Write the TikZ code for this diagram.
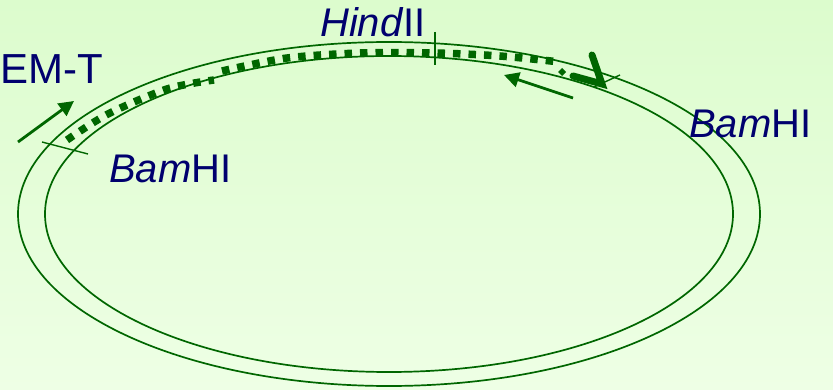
\documentclass[tikz,border=0pt]{standalone}
\usepackage{fontspec}
\setmainfont{Liberation Sans}
\usetikzlibrary{arrows.meta}
\definecolor{dna}{RGB}{0,102,0}
\definecolor{lbl}{RGB}{0,0,110}
\definecolor{bgtop}{RGB}{220,252,205}
\definecolor{bgbot}{RGB}{238,255,229}
\tikzset{
  ring/.style={draw=dna, line width=1.7pt},
  site/.style={draw=dna, line width=1.4pt},
  insert/.style={draw=dna, line width=7.5pt, dash pattern=on 7.5pt off 8pt},
  dirarrow/.style={draw=dna, line width=2.8pt, -{Triangle[length=15pt,width=15pt]}},
  label/.style={text=lbl, inner sep=0pt, anchor=base west, font=\fontsize{40}{48}\selectfont},
}
\begin{document}
\begin{tikzpicture}[x=1pt,y=-1pt]
\shade[top color=bgtop, bottom color=bgbot] (0,0) rectangle (833,390);
\useasboundingbox (0,0) rectangle (833,390);
% plasmid rings
\coordinate (c) at (389,214);
\draw[ring] (c) ellipse [x radius=371pt, y radius=172pt];
\draw[ring] (c) ellipse [x radius=344pt, y radius=158pt];
% insert (dotted)
\draw[insert] plot[smooth] coordinates {(67,140) (108,114) (167,89) (214,80)};
\draw[insert] plot[smooth] coordinates {(222,71) (287,58) (360,53) (435,53) (500,56) (560,62)};
\fill[dna] (562,68) -- (566,72) -- (562,76) -- (558,72) -- cycle;
\draw[dna, line width=7pt, line cap=round, line join=miter] (592,55) -- (602,84) -- (573,76);
% restriction sites
\coordinate (b1a) at (42,142); \coordinate (b1b) at (88,154);
\coordinate (h1a) at (435,32); \coordinate (h1b) at (435,65);
\coordinate (b2a) at (594,87); \coordinate (b2b) at (620,75);
\draw[site] (b1a) -- (b1b);
\draw[site] (h1a) -- (h1b);
\draw[site] (b2a) -- (b2b);
% direction arrows
\coordinate (a1s) at (18,142); \coordinate (a1e) at (74,101);
\coordinate (a2s) at (573,98); \coordinate (a2e) at (504,75);
\draw[dirarrow] (a1s) -- (a1e);
\draw[dirarrow] (a2s) -- (a2e);
% labels
\node[label, font=\fontsize{42}{50}\selectfont] (emt) at (0,84) {EM-T};
\node[label] (bam1) at (109,183) {\textit{Bam}HI};
\node[label] (hind) at (320,37) {\textit{Hind}II};
\node[label] (bam2) at (689,138) {\textit{Bam}HI};
\end{tikzpicture}
\end{document}
